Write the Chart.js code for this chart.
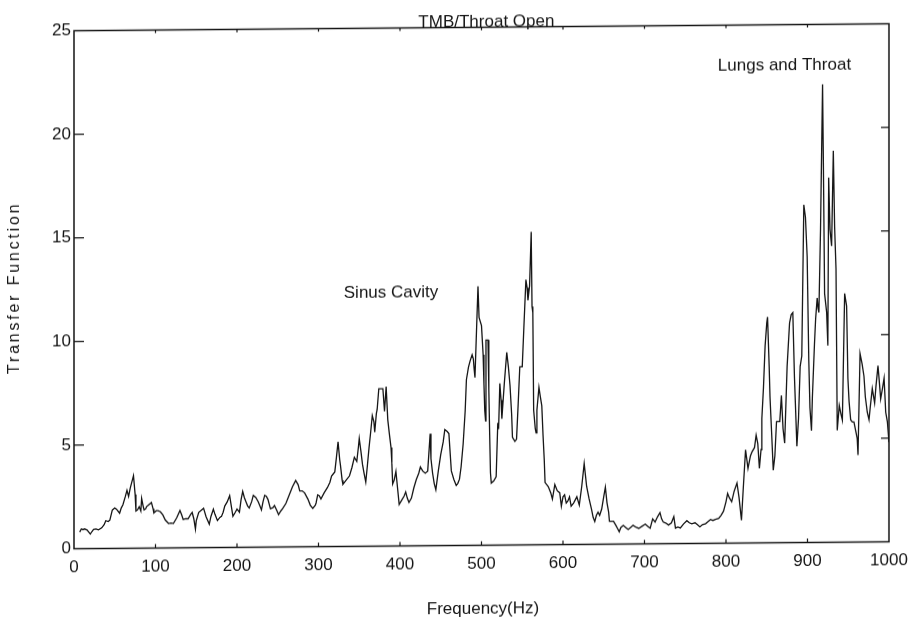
<!DOCTYPE html>
<html><head><meta charset="utf-8">
<style>
html,body{margin:0;padding:0;background:#fff;overflow:hidden}
#wrap{width:909px;height:621px;transform:skewY(-0.49deg);transform-origin:454.5px 310.5px}
canvas{display:block}
</style>
<script src="https://cdn.jsdelivr.net/npm/chart.js@4.4.1/dist/chart.umd.min.js"></script>
</head><body><div id="wrap"><canvas id="c" width="909" height="621"></canvas></div>
<script>
// ---- data ----
const frequencies = [
7,9,11,13,16,18,20,22,24,27,30,34,37,39,42,44,47,50,52,55,56,58,60,63,65,67,69,71,73,75,76,78,80,82,83,85,86,88,89,92,95,97,98,101,103,106,109,112,116,119,122,126,130,132,134,137,140,143,145,147,149,150,153,156,159,162,166,168,171,173,176,179,181,183,185,188,191,193,195,198,200,203,205,207,209,211,213,215,218,220,223,226,228,230,232,234,236,238,241,244,246,249,251,254,256,260,264,268,272,275,277,280,283,287,290,293,296,297,299,301,303,307,311,314,316,318,320,322,324,326,327,329,330,334,338,341,344,347,349,350,352,354,356,358,360,362,364,366,368,369,371,372,374,377,379,381,383,385,387,389,390,391,393,395,397,399,402,405,407,409,411,414,417,420,423,425,428,431,434,437,438,440,442,444,447,450,453,455,458,460,462,463,466,469,471,473,475,477.5,480,481.5,484,486,488.5,490,491,492,494,495.7,497,500,502,503,504,505,505.5,508,509,510,511,512,515,518,520,521,522.5,524,525,528,531,533,535,537,538,541,543,545,547,550,552,554.5,556,557,559,561,562,563,564,566,567,568,570.5,572,574,575.5,577,578,580,582,585,587,590,593,596,598,600,602,604,606,608,610,613,617,620,623,626,629,632,635,637,639,641,643,645,647.5,650,652,654,656,657,660,662,665,667,669,671,674,677,680,683,686,690,693,697,701,704,707,710,713,716,719,721,723,726,729.5,733,736,738,741,744,748,752,755,758,762,765,768,771,775,778,781,784,787,791,794,797,800,802,804,807,810,813.5,816,819,821,824,827,830,832,835,837,839,841,843,844,846,848,850,851,853,854,856,858,860,862,866,868,870,872,875,878,880,882,884,887,889,891,893,895.5,897.5,899.6,901.6,903,904.9,906,908.6,910,911.9,913,914,916,918.5,919.3,921,923.5,925,926,927.6,929.6,931.7,933.3,935,936.5,939,941,942.8,945.6,948,949.6,951,953,955,957,959,961,962,964.5,967,969.3,971,973.4,975.5,977,979.5,982.4,984,986.5,988,989.8,992,994,996,998,1000
];
const transferValues = [
0.8,0.95,0.92,0.95,0.9,0.8,0.7,0.82,0.92,0.95,0.9,1.0,1.15,1.34,1.3,1.37,1.85,1.95,1.9,1.75,1.7,1.95,2.1,2.5,2.8,2.5,2.9,3.2,3.5,2.6,1.8,1.85,2.0,1.8,2.4,2.0,1.85,1.9,2.0,2.1,2.2,1.9,1.7,1.8,1.8,1.75,1.6,1.35,1.18,1.2,1.18,1.45,1.8,1.6,1.37,1.4,1.4,1.6,1.7,1.4,0.9,1.3,1.7,1.8,1.9,1.5,1.13,1.5,1.85,1.6,1.3,1.45,1.5,1.7,2.0,2.2,2.5,2.0,1.5,1.7,1.85,1.7,2.3,2.7,2.4,2.2,2.0,1.9,2.2,2.5,2.4,2.2,2.0,1.8,2.2,2.5,2.45,2.3,1.85,1.9,2.0,1.75,1.56,1.75,1.85,2.1,2.5,2.9,3.2,3.0,2.7,2.7,2.6,2.3,2.0,1.85,2.0,2.1,2.5,2.45,2.3,2.6,2.85,3.1,3.4,3.5,3.6,4.3,5.05,4.2,3.9,3.2,3.0,3.2,3.4,3.8,4.3,4.1,4.8,5.2,4.6,3.95,3.5,3.1,3.9,4.75,5.5,6.3,6.0,5.5,6.4,6.6,7.6,7.6,7.6,6.5,7.7,6.1,5.4,4.75,4.0,3.0,3.2,3.6,2.8,2.0,2.2,2.4,2.6,2.3,2.1,2.3,2.8,3.2,3.5,3.8,3.6,3.5,3.6,5.4,4.2,3.5,3.0,2.7,3.6,4.4,5.0,5.6,5.5,5.4,4.2,3.6,3.2,2.9,3.0,3.2,3.8,4.9,6.5,8.0,8.6,8.9,9.2,9.0,8.5,8.1,10.5,12.5,11.0,10.6,9.2,7.8,6.5,6.0,9.9,9.9,7.5,5.4,3.5,3.0,3.1,3.3,5.9,5.6,7.8,7.0,6.1,7.8,9.3,8.6,7.7,6.3,5.2,5.0,5.1,6.8,8.6,8.6,10.5,12.8,12.4,11.8,12.5,15.1,11.5,11.2,6.5,5.6,5.4,6.5,7.6,7.2,6.7,5.3,4.1,3.0,2.9,2.8,2.5,2.2,2.9,2.6,2.5,1.85,2.3,2.4,2.0,2.1,2.3,1.85,2.0,2.3,1.9,2.8,3.9,2.8,2.2,1.7,1.3,1.1,1.4,1.55,1.4,1.7,2.3,2.75,2.0,1.55,1.1,1.1,1.1,0.9,0.75,0.6,0.8,0.9,0.8,0.7,0.8,0.9,0.8,0.75,0.85,0.95,0.85,0.75,1.2,1.05,1.3,1.5,1.2,1.05,1.0,0.9,1.0,1.3,0.75,0.8,0.75,0.95,1.1,1.0,0.95,1.0,0.9,0.8,0.9,0.95,1.05,1.15,1.1,1.15,1.2,1.35,1.55,2.0,2.4,2.2,2.0,2.5,2.9,2.2,1.1,2.5,4.5,3.6,4.2,4.4,4.6,5.2,4.8,3.6,4.5,6.0,7.5,9.5,10.6,10.9,8.5,7.05,5.3,3.5,4.2,5.85,5.85,7.1,5.5,4.8,8.5,10.6,11.0,11.1,8.0,4.65,6.0,8.5,9.0,16.3,15.7,13.8,8.8,6.5,5.4,7.0,9.6,10.8,11.8,11.3,11.1,15.1,22.1,19.1,12.0,11.1,9.5,17.6,15.1,14.3,18.9,15.2,13.2,5.4,6.6,6.2,5.9,12.0,11.4,7.9,6.8,5.9,5.8,5.8,5.4,5.0,4.2,9.1,8.6,8.0,7.0,6.25,5.9,6.5,7.4,6.7,7.5,8.5,7.8,6.9,7.4,7.9,6.25,5.8,4.8
];
const xTickValues = [0,100,200,300,400,500,600,700,800,900,1000];
const yTickValues = [0,5,10,15,20,25];
const chartTitle = 'TMB/Throat Open';
const xAxisTitle = 'Frequency(Hz)';
const yAxisTitle = 'Transfer Function';
const annotationTexts = ['Sinus Cavity', 'Lungs and Throat'];

// ---- drawing ----
const tickFont = {family: '"Liberation Sans", Arial, sans-serif', size: 17};
const textFont = '17px "Liberation Sans", Arial, sans-serif';
const ink = '#141414';

const framePlugin = {
  id: 'frame',
  afterDatasetsDraw(chart) {
    const {ctx, chartArea: a, scales} = chart;
    ctx.save();
    ctx.strokeStyle = ink;
    ctx.lineWidth = 1.5;
    ctx.strokeRect(a.left, a.top, a.right - a.left, a.bottom - a.top);
    ctx.lineWidth = 1.2;
    ctx.beginPath();
    yTickValues.slice(1, -1).forEach(v => {
      const y = scales.y.getPixelForValue(v);
      ctx.moveTo(a.left, y); ctx.lineTo(a.left + 10, y);
      ctx.moveTo(a.right, y); ctx.lineTo(a.right - 8, y);
    });
    xTickValues.slice(1, -1).forEach(v => {
      const x = scales.x.getPixelForValue(v);
      ctx.moveTo(x, a.bottom); ctx.lineTo(x, a.bottom - 4);
      ctx.moveTo(x, a.top); ctx.lineTo(x, a.top + 3);
    });
    ctx.stroke();

    ctx.fillStyle = ink;
    ctx.font = textFont;
    // title, sitting on the top frame line
    ctx.textAlign = 'center';
    ctx.textBaseline = 'alphabetic';
    ctx.fillText(chartTitle, scales.x.getPixelForValue(506), a.top - 1);
    // annotations
    ctx.textAlign = 'left';
    ctx.textBaseline = 'middle';
    ctx.fillText(annotationTexts[0], scales.x.getPixelForValue(331), scales.y.getPixelForValue(12.2));
    ctx.fillText(annotationTexts[1], scales.x.getPixelForValue(790), scales.y.getPixelForValue(23.05));
    // x title
    ctx.textAlign = 'center';
    ctx.fillText(xAxisTitle, 483, 609);
    // y title
    ctx.save();
    ctx.translate(15, 284);
    ctx.rotate(-Math.PI / 2);
    ctx.font = '16px "Liberation Sans", Arial, sans-serif';
    try { ctx.letterSpacing = '2.8px'; } catch (e) {}
    ctx.fillText(yAxisTitle, 0, 0);
    ctx.restore();
    ctx.restore();
  }
};

new Chart(document.getElementById('c'), {
  type: 'line',
  data: {
    datasets: [{
      data: frequencies.map((f, i) => ({x: f, y: transferValues[i]})),
      borderColor: ink,
      borderWidth: 1.3,
      pointRadius: 0,
      tension: 0,
      fill: false
    }]
  },
  options: {
    responsive: false,
    animation: false,
    devicePixelRatio: 1,
    layout: {padding: {top: 27.5, right: 20, left: 0, bottom: 0}},
    plugins: {legend: {display: false}, tooltip: {enabled: false}, title: {display: false}},
    scales: {
      x: {
        type: 'linear', min: 0, max: 1000,
        afterBuildTicks: s => { s.ticks = xTickValues.map(v => ({value: v})); },
        ticks: {font: tickFont, color: ink, padding: 9, maxRotation: 0, autoSkip: false, callback: v => String(v)},
        grid: {display: false, drawTicks: false},
        border: {display: false},
        afterFit: s => { s.height = 75.5; s.paddingLeft = 0; s.paddingRight = 0; }
      },
      y: {
        type: 'linear', min: 0, max: 25,
        afterBuildTicks: s => { s.ticks = yTickValues.map(v => ({value: v})); },
        ticks: {font: tickFont, color: ink, padding: 3, callback: v => String(v)},
        grid: {display: false, drawTicks: false},
        border: {display: false},
        afterFit: s => { s.width = 74; }
      }
    }
  },
  plugins: [framePlugin]
});
</script>
</body></html>
